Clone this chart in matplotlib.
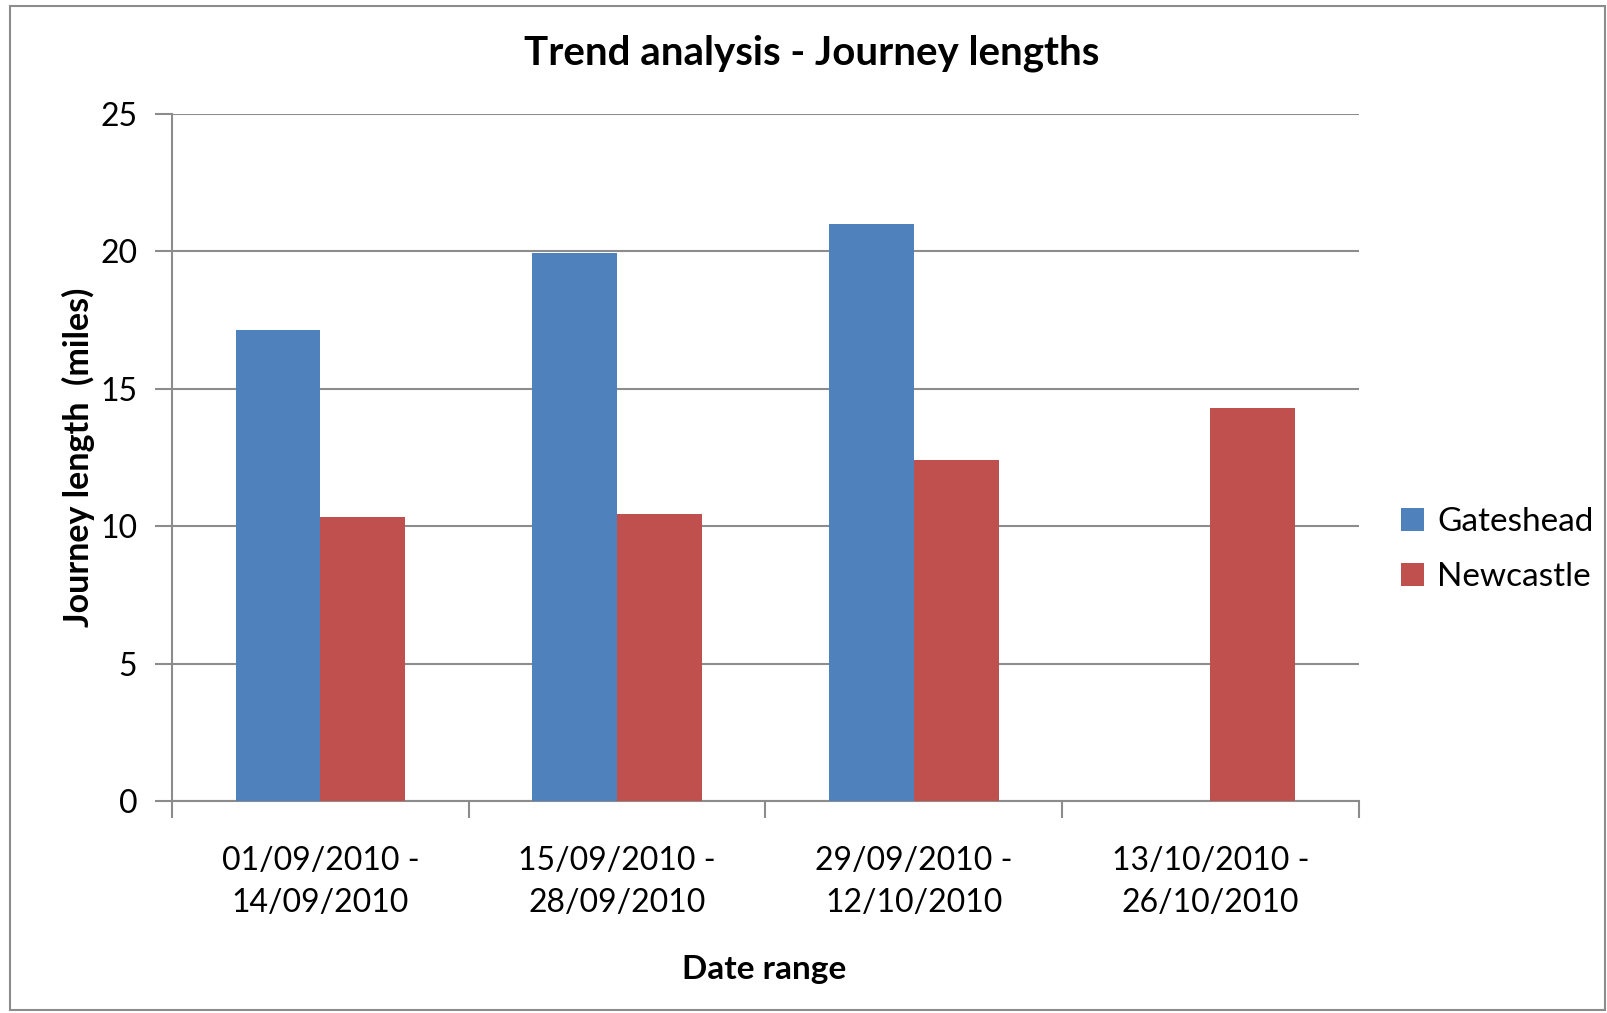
import matplotlib
matplotlib.use("Agg")
import matplotlib.pyplot as plt
import numpy as np
from matplotlib.patches import Rectangle

# data
date_ranges = ["01/09/2010 -\n14/09/2010", "15/09/2010 -\n28/09/2010",
               "29/09/2010 -\n12/10/2010", "13/10/2010 -\n26/10/2010"]
gateshead = [17.15, 19.95, 21.0, np.nan]
newcastle = [10.33, 10.45, 12.42, 14.3]
y_ticks = [0, 5, 10, 15, 20, 25]

blue = "#4F81BD"
red = "#C0504D"
grid_col = "#8C8C8C"

plt.rcParams["font.family"] = ["Lato", "DejaVu Sans"]

fig = plt.figure(figsize=(16.08, 10.13), dpi=100)
ax = fig.add_axes([0.107, 0.2088, 0.738, 0.6787])

x = np.arange(len(date_ranges))
w = 0.2857
ax.bar(x - w / 2, gateshead, w, color=blue, label="Gateshead", zorder=3)
ax.bar(x + w / 2, newcastle, w, color=red, label="Newcastle", zorder=3)

ax.set_xlim(-0.5, len(date_ranges) - 0.5)
ax.set_ylim(0, 25)
ax.set_yticks(y_ticks)
ax.yaxis.grid(True, color=grid_col, linewidth=1.5, zorder=0)
ax.set_axisbelow(True)

# category boundaries carry the tick marks, labels sit in the middle
ax.set_xticks(np.arange(-0.5, len(date_ranges)), minor=False)
ax.set_xticklabels([])
ax.set_xticks(x, minor=True)
ax.set_xticklabels(date_ranges, minor=True, fontsize=23, linespacing=1.5)
ax.tick_params(axis="x", which="major", length=12, width=1.5, color=grid_col, direction="out")
ax.tick_params(axis="x", which="minor", length=0, pad=32)
ax.tick_params(axis="y", length=12, width=1.5, color=grid_col, labelsize=23, pad=13)

for s in ["top", "right"]:
    ax.spines[s].set_visible(False)
for s in ["left", "bottom"]:
    ax.spines[s].set_color(grid_col)
    ax.spines[s].set_linewidth(1.5)

ax.set_xlabel("Date range", fontsize=24, fontweight="bold")
ax.xaxis.set_label_coords(0.499, -0.223)
ax.set_ylabel("Journey length  (miles)", fontsize=24.5, fontweight="bold")
ax.yaxis.set_label_coords(-0.065, 0.5)

fig.text(0.505, 0.947, "Trend analysis - Journey lengths", fontsize=29,
         fontweight="bold", ha="center", va="center")

ax.legend(loc="center left", bbox_to_anchor=(1.01, 0.366), frameon=False,
          fontsize=24, handlelength=0.7, handleheight=0.7, handletextpad=0.4,
          labelspacing=0.75)

# chart area border
fig.patches.append(Rectangle((10 / 1608, 3 / 1013), 1595 / 1608, 1004 / 1013,
                             transform=fig.transFigure, fill=False,
                             edgecolor=grid_col, linewidth=1.5))

fig.savefig("out.png", dpi=100)
